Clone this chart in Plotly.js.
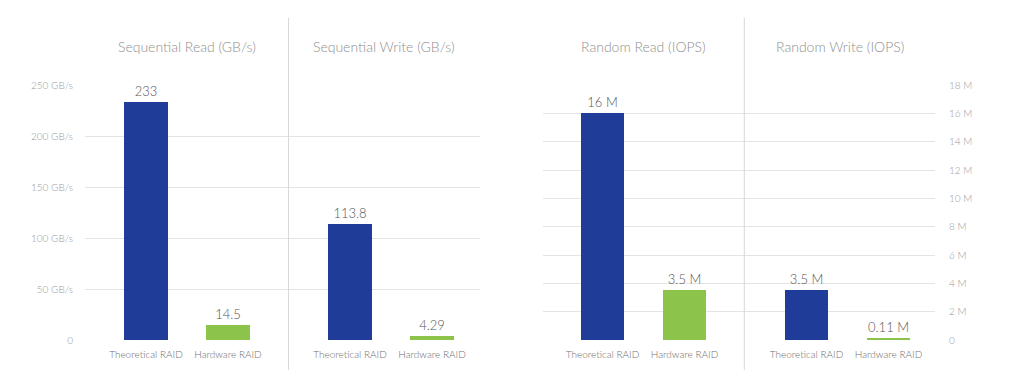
<!DOCTYPE html>
<html>
<head>
<meta charset="utf-8">
<script src="https://cdn.plot.ly/plotly-3.0.1.min.js"></script>
<style>
  html, body { margin: 0; padding: 0; background: #fff; }
  #chart { width: 1024px; height: 388px; }
</style>
</head>
<body>
<div id="chart"></div>
<script>
// ---- data ----
const categories = ['Theoretical RAID', 'Hardware RAID'];

const panelTitles = ['Sequential Read (GB/s)', 'Sequential Write (GB/s)', 'Random Read (IOPS)', 'Random Write (IOPS)'];

const seqReadValues = [233, 14.5];
const seqReadLabels = ['233', '14.5'];
const seqWriteValues = [113.8, 4.29];
const seqWriteLabels = ['113.8', '4.29'];

const randReadValues = [16, 3.5];      // millions of IOPS
const randReadLabels = ['16 M', '3.5 M'];
const randWriteValues = [3.5, 0.11];   // millions of IOPS
const randWriteLabels = ['3.5 M', '0.11 M'];

const gbTickVals = [0, 50, 100, 150, 200, 250];
const gbTickText = ['0', '50 GB/s', '100 GB/s', '150 GB/s', '200 GB/s', '250 GB/s'];
const iopsTickVals = [0, 2, 4, 6, 8, 10, 12, 14, 16, 18];
const iopsTickText = ['0', '2 M', '4 M', '6 M', '8 M', '10 M', '12 M', '14 M', '16 M', '18 M'];

// ---- style ----
const BLUE = '#1f3d98';
const GREEN = '#8cc34b';
const barColors = [BLUE, GREEN];
const FONT = 'Lato, "Open Sans", sans-serif';
const GRID = '#e4e4e4';

function barTrace(values, labels, xa, ya) {
  return {
    type: 'bar',
    x: categories,
    y: values,
    text: labels,
    textposition: 'outside',
    textfont: { family: FONT, size: 13, color: '#555', weight: 300 },
    cliponaxis: false,
    marker: { color: barColors },
    width: 0.53,
    xaxis: xa,
    yaxis: ya,
    hoverinfo: 'x+y',
    showlegend: false
  };
}

const data = [
  barTrace(seqReadValues, seqReadLabels, 'x', 'y'),
  barTrace(seqWriteValues, seqWriteLabels, 'x2', 'y'),
  barTrace(randReadValues, randReadLabels, 'x3', 'y3'),
  barTrace(randWriteValues, randWriteLabels, 'x4', 'y3')
];

function xAxis(domain, range, anchor) {
  return {
    domain: domain,
    range: range,
    anchor: anchor,
    type: 'category',
    showgrid: false,
    zeroline: false,
    showline: false,
    ticks: 'outside',
    ticklen: 5,
    tickcolor: 'rgba(0,0,0,0)',
    tickfont: { family: FONT, size: 10, color: '#707070', weight: 300 },
    fixedrange: true
  };
}

const layout = {
  width: 1024,
  height: 388,
  margin: { l: 0, r: 0, t: 85, b: 48 },
  paper_bgcolor: '#fff',
  plot_bgcolor: '#fff',
  font: { family: FONT },
  bargap: 0,
  xaxis:  xAxis([85 / 1024, 288.5 / 1024], [-0.744, 1.738], 'y'),
  xaxis2: xAxis([288.5 / 1024, 480 / 1024], [-0.75, 1.585], 'y'),
  xaxis3: xAxis([543 / 1024, 744.3 / 1024], [-0.726, 1.729], 'y3'),
  xaxis4: xAxis([744.3 / 1024, 935 / 1024], [-0.759, 1.567], 'y3'),
  yaxis: {
    domain: [0, 1],
    range: [0, 250],
    anchor: 'x',
    side: 'left',
    tickvals: gbTickVals,
    ticktext: gbTickText,
    showgrid: true,
    gridcolor: GRID,
    gridwidth: 1,
    zeroline: false,
    showline: false,
    ticks: 'outside',
    ticklen: 9,
    tickcolor: 'rgba(0,0,0,0)',
    tickfont: { family: FONT, size: 10, color: '#999', weight: 300 },
    fixedrange: true
  },
  yaxis3: {
    domain: [0, 1],
    range: [0, 18],
    anchor: 'x4',
    side: 'right',
    tickvals: iopsTickVals,
    ticktext: iopsTickText,
    showgrid: true,
    gridcolor: GRID,
    gridwidth: 1,
    zeroline: false,
    showline: false,
    ticks: 'outside',
    ticklen: 11,
    tickcolor: 'rgba(0,0,0,0)',
    tickfont: { family: FONT, size: 10, color: '#999', weight: 300 },
    fixedrange: true
  },
  annotations: panelTitles.map((t, i) => ({
    text: t,
    xref: (i === 0 ? 'x' : 'x' + (i + 1)) + ' domain',
    x: 0.5,
    xanchor: 'center',
    yref: 'paper',
    y: (340 - 46) / 255,
    yanchor: 'middle',
    showarrow: false,
    font: { family: FONT, size: 14, color: '#8f8f8f', weight: 300 }
  })),
  shapes: [
    { type: 'line', xref: 'x2 domain', x0: 0, x1: 0, yref: 'paper', y0: -0.118, y1: 1.263,
      line: { color: '#d8d8d8', width: 1 } },
    { type: 'line', xref: 'x4 domain', x0: 0, x1: 0, yref: 'paper', y0: -0.118, y1: 1.263,
      line: { color: '#d8d8d8', width: 1 } }
  ]
};

Plotly.newPlot('chart', data, layout, { displayModeBar: false, staticPlot: true });
</script>
</body>
</html>
